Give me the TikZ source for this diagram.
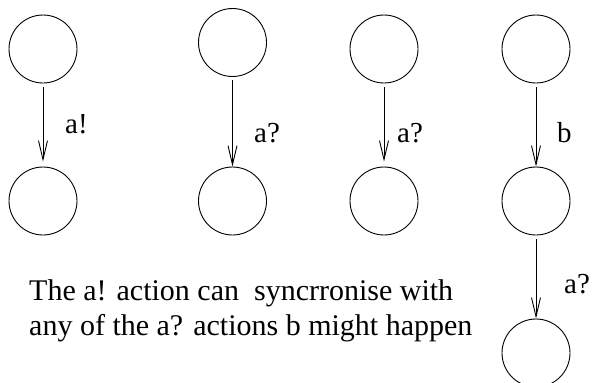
\documentclass[tikz,border=0pt]{standalone}
\usepackage{fontspec}
\setmainfont{Liberation Serif}
\usetikzlibrary{arrows.meta}
\begin{document}
\begin{tikzpicture}[x=1pt,y=-1pt,
  state/.style={draw,circle,minimum size=68pt,inner sep=0pt,line width=0.9pt},
  arr/.style={draw,line width=0.9pt,-{Straight Barb[length=19pt,width=9pt,line width=0.9pt]}},
  lbl/.style={anchor=base west,inner sep=0pt,font=\fontsize{29}{34}\selectfont},
  txt/.style={anchor=base west,inner sep=0pt,font=\fontsize{30}{36}\selectfont}]
\useasboundingbox (0,0) rectangle (592,383);
% column 1
\node[state] (t1) at (43,49) {};
\node[state] (b1) at (43,201) {};
\draw[arr,shorten <=4pt,shorten >=5pt] (t1) -- (b1);
\node[lbl] (l1) at (65,133) {a!};
% column 2
\node[state] (t2) at (232.5,42.5) {};
\node[state] (b2) at (232.5,201) {};
\draw[arr,shorten <=3pt] (t2) -- (b2);
\node[lbl] (l2) at (254,142) {a?};
% column 3
\node[state] (t3) at (384,49) {};
\node[state] (b3) at (384,201) {};
\draw[arr,shorten <=4pt,shorten >=5pt] (t3) -- (b3);
\node[lbl] (l3) at (397,142) {a?};
% column 4
\node[state] (t4) at (536,49) {};
\node[state] (m4) at (536,201) {};
\node[state] (b4) at (536,353) {};
\draw[arr,shorten <=4pt] (t4) -- (m4);
\draw[arr,shorten <=4pt] (m4) -- (b4);
\node[lbl] (l4) at (557,142) {b};
\node[lbl] (l5) at (564,293) {a?};
% caption
\node[txt] (c1) at (29,300) {The a! action can\ \ syncrronise with};
\node[txt] (c2) at (29,335) {any of the a? actions b might happen};
\end{tikzpicture}
\end{document}
